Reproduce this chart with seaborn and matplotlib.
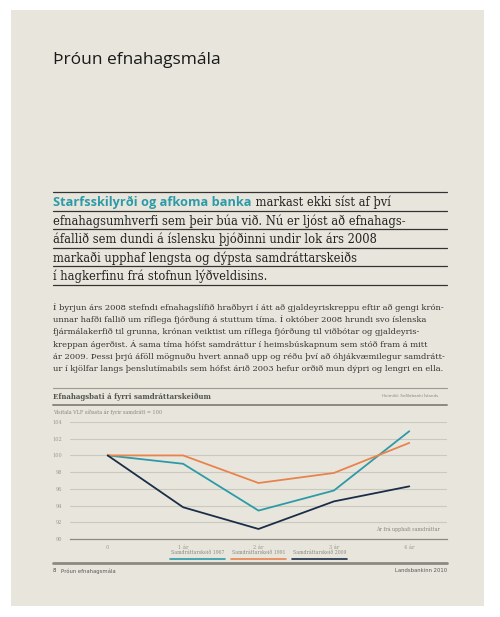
import matplotlib
matplotlib.use("Agg")
import matplotlib.pyplot as plt
import matplotlib.patches as mpatches
import matplotlib.lines as mlines
import numpy as np
import pandas as pd
import seaborn as sns

# --- data -------------------------------------------------------------
years = [0, 1, 2, 3, 4]
year_labels = ["0", "1 ár", "2 ár", "3 ár", "4 ár"]
series_names = ["Samdráttarskeið 1967", "Samdráttarskeið 1991", "Samdráttarskeið 2009"]
vlf_1967 = [100.0, 99.0, 93.4, 95.8, 102.9]
vlf_1991 = [100.0, 100.0, 96.7, 97.9, 101.5]
vlf_2009 = [100.0, 93.8, 91.2, 94.5, 96.3]
y_ticks = [90, 92, 94, 96, 98, 100, 102, 104]

title = "Þróun efnahagsmála"
lead_bold = "Starfsskilyrði og afkoma banka"
lead_lines = [
    " markast ekki síst af því",
    "efnahagsumhverfi sem þeir búa við. Nú er ljóst að efnahags-",
    "áfallið sem dundi á íslensku þjóðinni undir lok árs 2008",
    "markaði upphaf lengsta og dýpsta samdráttarskeiðs",
    "í hagkerfinu frá stofnun lýðveldisins.",
]
body_lines = [
    "Í byrjun árs 2008 stefndi efnahagslífið hraðbyri í átt að gjaldeyriskreppu eftir að gengi krón-",
    "unnar hafði fallið um ríflega fjórðung á stuttum tíma. Í október 2008 hrundi svo íslenska",
    "fjármálakerfið til grunna, krónan veiktist um ríflega fjórðung til viðbótar og gjaldeyris-",
    "kreppan ágerðist. Á sama tíma hófst samdráttur í heimsbúskapnum sem stóð fram á mitt",
    "ár 2009. Þessi þrjú áföll mögnuðu hvert annað upp og réðu því að óhjákvæmilegur samdrátt-",
    "ur í kjölfar langs þenslutímabils sem hófst árið 2003 hefur orðið mun dýpri og lengri en ella.",
]

BG = "#e8e6dc"
colors = {"Samdráttarskeið 1967": "#2d9aa8",
          "Samdráttarskeið 1991": "#e8834e",
          "Samdráttarskeið 2009": "#1a2e48"}

df = pd.DataFrame({
    "year": years * 3,
    "value": vlf_1967 + vlf_1991 + vlf_2009,
    "series": [s for s in series_names for _ in years],
})

sns.set_theme(style="white")
plt.rcParams["font.family"] = ["DejaVu Sans"]

W, H = 500, 617
fig = plt.figure(figsize=(W / 100, H / 100), dpi=100)
fig.patch.set_facecolor("white")


def fx(px):
    return px / W


def fy(py):
    return 1 - py / H


def hline(y, x0=53, x1=447, color="#333333", lw=0.9):
    fig.add_artist(mlines.Line2D([fx(x0), fx(x1)], [fy(y), fy(y)], color=color, lw=lw,
                                 transform=fig.transFigure))


# page background
fig.add_artist(mpatches.Rectangle((fx(11), fy(606)), fx(484 - 11), (606 - 10) / H,
                                  transform=fig.transFigure, facecolor=BG, edgecolor="none", zorder=-10))

fig.text(fx(53), fy(60), title, fontsize=12.5, color="#1a1a1a", va="center", family="Open Sans",
         weight="medium")

# lead paragraph with rules
rules = [192, 211, 229, 248, 266, 285]
for r in rules:
    hline(r)
for i, line in enumerate(lead_lines):
    y = fy(rules[i] + 10)
    if i == 0:
        t = fig.text(fx(53), y, lead_bold, fontsize=9.2, color="#2d9aa8", weight="bold",
                     va="center", family="Open Sans")
        fig.canvas.draw()
        bb = t.get_window_extent()
        fig.text(bb.x1 / W, y, line, fontsize=8.3, color="#222222", va="center", family="DejaVu Serif")
    else:
        fig.text(fx(53), y, line, fontsize=8.3, color="#222222", va="center", family="DejaVu Serif")

for i, line in enumerate(body_lines):
    fig.text(fx(53), fy(307 + i * 12.4), line, fontsize=6.0, color="#333333", va="center",
             family="DejaVu Serif")

# chart header
hline(388, color="#9a9a90", lw=0.8)
fig.text(fx(53), fy(397), "Efnahagsbati á fyrri samdráttarskeiðum", fontsize=5.0, color="#555550",
         va="center", family="DejaVu Serif", weight="bold")
fig.text(fx(438), fy(396), "Heimild: Seðlabanki Íslands", fontsize=3.0, color="#8a8a80",
         va="center", ha="right")
hline(405, color="#8a8a80", lw=1.4)
fig.text(fx(53), fy(412), "Vísitala VLF síðasta ár fyrir samdrátt = 100", fontsize=3.5,
         color="#8a8a80", va="center", family="DejaVu Serif")

# chart
ax = fig.add_axes([fx(70), fy(539), fx(447 - 70), (539 - 422) / H])
ax.set_facecolor(BG)
for yt in y_ticks[1:]:
    ax.axhline(yt, color="#cbc9bf", lw=0.8, zorder=0)
sns.lineplot(data=df, x="year", y="value", hue="series", palette=colors, ax=ax,
             legend=False, lw=1.3, clip_on=False, zorder=3)
ax.set_xlim(-0.5, 4.5)
ax.set_ylim(90, 104)
ax.set_yticks(y_ticks)
ax.set_yticklabels([str(t) for t in y_ticks], fontsize=3.6, color="#9a9a90", family="DejaVu Serif")
ax.set_xticks(years)
ax.set_xticklabels(year_labels, fontsize=3.6, color="#9a9a90", family="DejaVu Serif")
ax.set_xticks(np.arange(-0.5, 5, 1), minor=True)
ax.tick_params(axis="x", which="major", length=0, pad=4)
ax.tick_params(axis="x", which="minor", length=4, direction="inout", color="#8a8a80", width=0.8)
ax.tick_params(axis="y", length=0, pad=6)
ax.set_xlabel("")
ax.set_ylabel("")
for s in ["top", "right", "left"]:
    ax.spines[s].set_visible(False)
ax.spines["bottom"].set_color("#8a8a80")
ax.spines["bottom"].set_linewidth(0.9)
ax.text(0.98, 91.6, "Ár frá upphafi samdráttar", transform=ax.get_yaxis_transform(), fontsize=3.5,
        color="#8a8a80", ha="right", va="top", family="DejaVu Serif")

# legend below
leg_spans = [(170, 225), (231, 286), (292, 347)]
for name, (x0, x1) in zip(series_names, leg_spans):
    fig.text(fx((x0 + x1) / 2), fy(553), name, fontsize=3.3, color="#8a8a80", ha="center",
             va="center", family="DejaVu Serif")
    hline(558.5, x0, x1, color=colors[name], lw=1.2)

# footer
hline(563, color="#8a8a80", lw=2.0)
fig.text(fx(53), fy(571), "8", fontsize=3.8, color="#444444", va="center")
fig.text(fx(61), fy(571), "Þróun efnahagsmála", fontsize=3.8, color="#555555", va="center")
fig.text(fx(447), fy(571), "Landsbankinn 2010", fontsize=3.8, color="#555555", va="center", ha="right")

fig.savefig("out.png", dpi=100, facecolor="white")
